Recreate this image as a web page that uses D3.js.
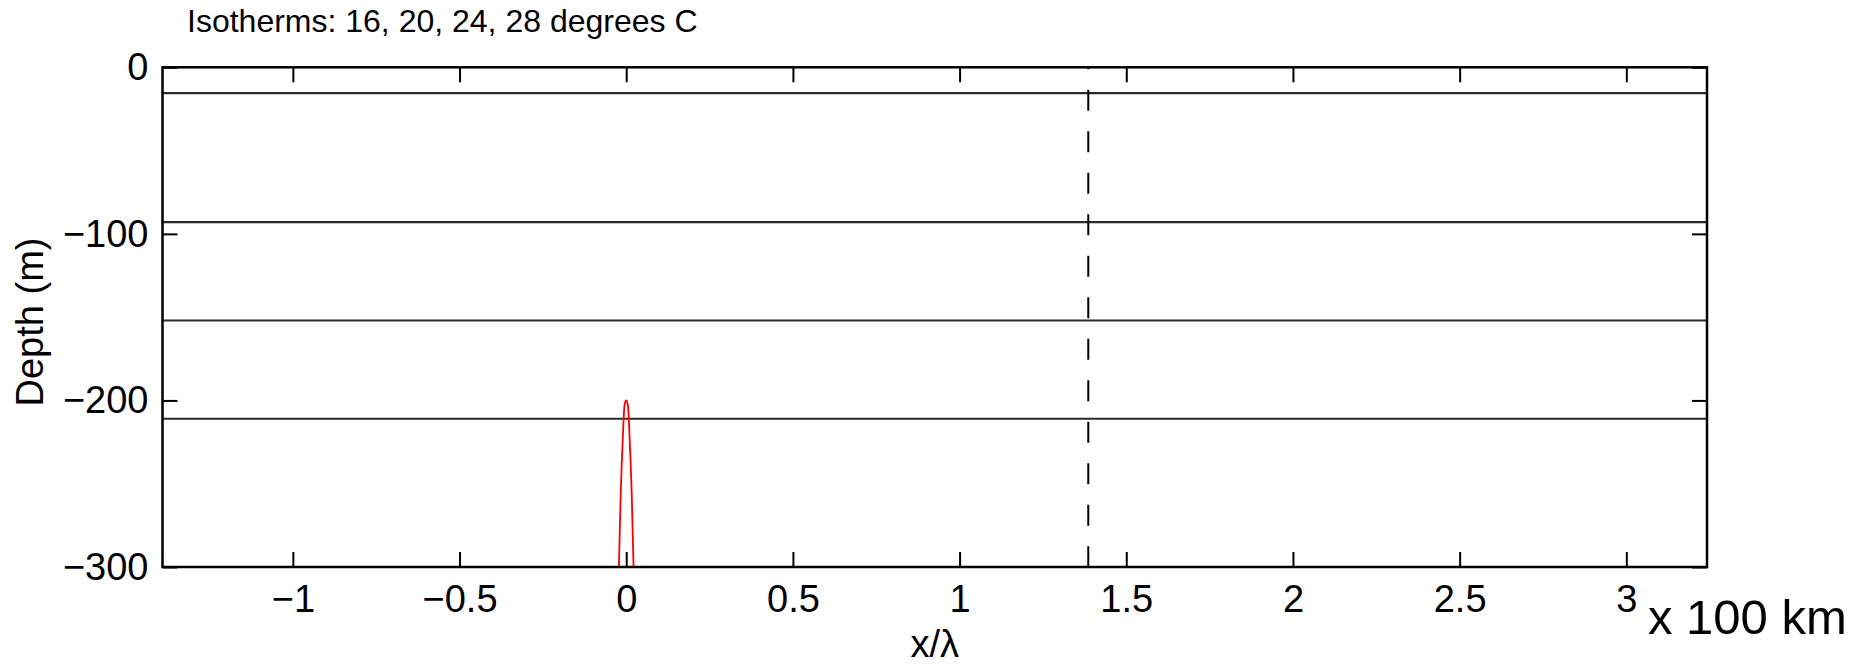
<!DOCTYPE html>
<html>
<head>
<meta charset="utf-8">
<script src="https://cdn.jsdelivr.net/npm/d3@7"></script>
<style>
  html, body { margin: 0; padding: 0; background: #fff; }
  svg { display: block; font-family: Arial, "Liberation Sans", Helvetica, sans-serif; }
</style>
</head>
<body>
<svg id="chart" width="1854" height="664"></svg>
<script>
// Axis ranges and ticks
const xDomain = [-1.391, 3.242];          // x / lambda
const yDomain = [-300, 0];                // depth (m)
const xTicks = [-1, -0.5, 0, 0.5, 1, 1.5, 2, 2.5, 3];
const yTicks = [0, -100, -200, -300];

// Isotherm depths (m) for 28, 24, 20, 16 degrees C
const isothermDepths = [-15.5, -93, -152, -211];

// Marker position of the propagating front (x / lambda)
const frontX = 1.386;

// Red disturbance profile: x / lambda and depth (m)
const bumpX     = [-0.022, -0.019, -0.0165, -0.013, -0.008, -0.0057, -0.003, 0, 0.003, 0.0057, 0.008, 0.013, 0.0165, 0.019, 0.022];
const bumpDepth = [-300,   -276,   -256,    -236,   -212,   -204,    -201,   -200, -201, -204,  -212,  -236,  -256,   -276,  -300];

const svg = d3.select("#chart");
const plotL = 162.5, plotR = 1707, plotT = 67.3, plotB = 567;

const x = d3.scaleLinear().domain(xDomain).range([plotL, plotR]);
const y = d3.scaleLinear().domain(yDomain).range([plotB, plotT]);

const fmt = d3.format("~g");

// Isotherms
svg.append("g")
  .selectAll("line")
  .data(isothermDepths)
  .join("line")
  .attr("x1", plotL).attr("x2", plotR)
  .attr("y1", d => y(d)).attr("y2", d => y(d))
  .attr("stroke", "#2a2a2a")
  .attr("stroke-width", 2.2);

// Dashed front marker
svg.append("line")
  .attr("x1", x(frontX)).attr("x2", x(frontX))
  .attr("y1", y(0)).attr("y2", y(-300))
  .attr("stroke", "#000")
  .attr("stroke-width", 2)
  .attr("stroke-dasharray", "21,20.5")
  .attr("stroke-dashoffset", 19);

// Red profile
const bumpPts = bumpX.map((v, i) => [v, bumpDepth[i]]);
svg.append("path")
  .datum(bumpPts)
  .attr("fill", "none")
  .attr("stroke", "#ff0000")
  .attr("stroke-width", 1.8)
  .attr("d", d3.line().x(d => x(d[0])).y(d => y(d[1])).curve(d3.curveMonotoneX));

// Axes with inward ticks
const tickLen = 15;
const axisFont = "38px";

const gx = svg.append("g")
  .attr("transform", `translate(0,${plotB})`)
  .call(d3.axisBottom(x).tickValues(xTicks).tickFormat(fmt)
        .tickSizeInner(-tickLen).tickSizeOuter(0).tickPadding(18));
const gy = svg.append("g")
  .attr("transform", `translate(${plotL},0)`)
  .call(d3.axisLeft(y).tickValues(yTicks).tickFormat(fmt)
        .tickSizeInner(-tickLen).tickSizeOuter(0).tickPadding(14));
const gxTop = svg.append("g")
  .attr("transform", `translate(0,${plotT})`)
  .call(d3.axisTop(x).tickValues(xTicks).tickFormat("")
        .tickSizeInner(-tickLen).tickSizeOuter(0));
const gyRight = svg.append("g")
  .attr("transform", `translate(${plotR},0)`)
  .call(d3.axisRight(y).tickValues(yTicks).tickFormat("")
        .tickSizeInner(-tickLen).tickSizeOuter(0));

[gx, gy, gxTop, gyRight].forEach(g => {
  g.select(".domain").remove();
  g.selectAll(".tick line").attr("stroke", "#000").attr("stroke-width", 2);
  g.selectAll(".tick text").attr("fill", "#000")
    .style("font-size", axisFont)
    .style("font-family", "Arial, 'Liberation Sans', Helvetica, sans-serif");
});

// Frame
svg.append("rect")
  .attr("x", plotL).attr("y", plotT)
  .attr("width", plotR - plotL).attr("height", plotB - plotT)
  .attr("fill", "none")
  .attr("stroke", "#000")
  .attr("stroke-width", 2.5);

// Labels
svg.append("text")
  .attr("x", 187).attr("y", 31.5)
  .style("font-size", "32px")
  .text("Isotherms: 16, 20, 24, 28 degrees C");

svg.append("text")
  .attr("transform", "translate(43,322) rotate(-90)")
  .attr("text-anchor", "middle")
  .style("font-size", "38px")
  .text("Depth (m)");

svg.append("text")
  .attr("x", (plotL + plotR) / 2).attr("y", 657)
  .attr("text-anchor", "middle")
  .style("font-size", "38px")
  .text("x/λ");

svg.append("text")
  .attr("x", 1648).attr("y", 634)
  .style("font-size", "49px")
  .text("x 100 km");
</script>
</body>
</html>
